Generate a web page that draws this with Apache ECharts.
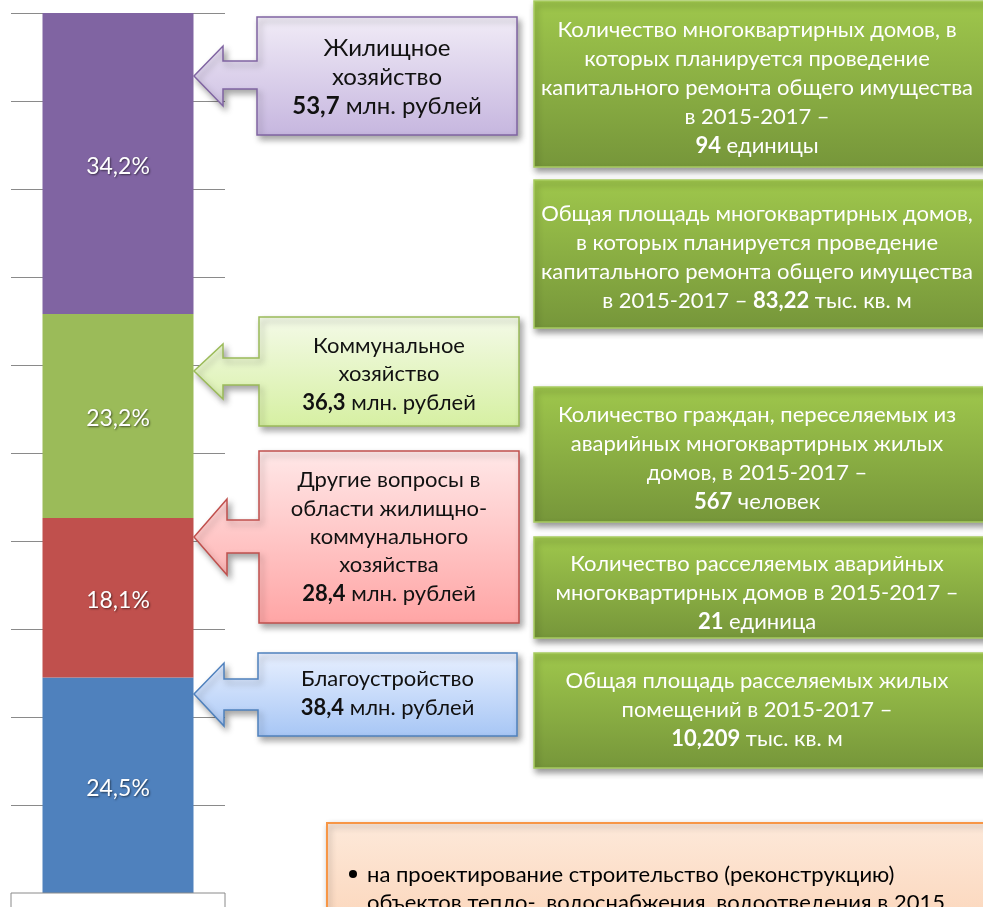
<!DOCTYPE html>
<html><head><meta charset="utf-8">
<script src="https://cdn.jsdelivr.net/npm/echarts@6/dist/echarts.min.js"></script>
<style>html,body{margin:0;padding:0;background:#fff}#c{width:983px;height:907px}</style>
</head><body><div id="c"></div>
<script>
// ---- data ----
const categories = [''];
const seriesNames = ['Благоустройство', 'Другие вопросы в области жилищно-коммунального хозяйства', 'Коммунальное хозяйство', 'Жилищное хозяйство'];
const sharePct = [24.5, 18.1, 23.2, 34.2];
const amountsMln = ['38,4', '28,4', '36,3', '53,7'];
const calloutLines = [
  ['Благоустройство'],
  ['Другие вопросы в', 'области жилищно-', 'коммунального', 'хозяйства'],
  ['Коммунальное', 'хозяйство'],
  ['Жилищное', 'хозяйство']
];
const unitText = ' млн. рублей';
const yTicks = [0, 10, 20, 30, 40, 50, 60, 70, 80, 90, 100];
const infoBoxes = [
  ['Количество многоквартирных домов, в', 'которых планируется проведение', 'капитального ремонта общего имущества', 'в 2015-2017 –', '{b|94} единицы'],
  ['Общая площадь многоквартирных домов,', 'в которых планируется проведение', 'капитального ремонта общего имущества', 'в 2015-2017 – {b|83,22} тыс. кв. м'],
  ['Количество граждан, переселяемых из', 'аварийных многоквартирных жилых', 'домов, в 2015-2017 –', '{b|567} человек'],
  ['Количество расселяемых аварийных', 'многоквартирных домов в 2015-2017 –', '{b|21} единица'],
  ['Общая площадь расселяемых жилых', 'помещений в 2015-2017 –', '{b|10,209} тыс. кв. м']
];
const noteLines = ['на проектирование строительство (реконструкцию)', 'объектов тепло-, водоснабжения, водоотведения в 2015'];
const colors = ['#4f81bd', '#c0504d', '#9bbb59', '#8064a2'];

// ---- decoration layout ----
const FONT = 'Lato, "Open Sans", sans-serif';
const callouts = [
  {L:258,R:517,T:653,B:736,st:679,sb:710,hx:224,ht:663,hb:726,ty:694,cy:693,fs:22,lh:29, c0:'#e8f0ff', c1:'#a7c6f5', stroke:'#4f81bd'},
  {L:259,R:519,T:451,B:623,st:520,sb:553,hx:227,ht:499,hb:575,ty:537,cy:537,fs:22,lh:28.3, c0:'#ffe8e8', c1:'#ffa5a5', stroke:'#c0504d'},
  {L:259,R:519,T:317,B:426,st:358,sb:385,hx:223,ht:344,hb:399,ty:371,cy:374,fs:22,lh:28.5, c0:'#f4fae8', c1:'#d6f0a2', stroke:'#9bbb59'},
  {L:257,R:517,T:17,B:135,st:61,sb:89,hx:223,ht:46,hb:106,ty:76,cy:77,fs:24,lh:29, c0:'#f1ecf7', c1:'#c6b6df', stroke:'#8064a2'}
];
const infoGeom = [
  {T:1,B:167,cy:88}, {T:180,B:328,cy:257}, {T:387,B:522,cy:458}, {T:537,B:638,cy:593}, {T:653,B:768,cy:710}
];

const graphics = [];
// bottom category box
graphics.push({type:'rect', z:5, shape:{x:11, y:893, width:214, height:40}, style:{fill:'#fff', stroke:'#8a8a8a', lineWidth:1}});

callouts.forEach((g, i) => {
  graphics.push({
    type:'polygon', z:50,
    shape:{points:[[g.L,g.T],[g.R,g.T],[g.R,g.B],[g.L,g.B],[g.L,g.sb],[g.hx,g.sb],[g.hx,g.hb],[194,g.ty],[g.hx,g.ht],[g.hx,g.st],[g.L,g.st]]},
    style:{
      fill:{type:'linear',x:0,y:0,x2:0,y2:1,colorStops:[{offset:0,color:g.c0},{offset:1,color:g.c1}]},
      stroke:g.stroke, lineWidth:1.5,
      shadowBlur:6, shadowOffsetX:3, shadowOffsetY:4, shadowColor:'rgba(0,0,0,0.35)'
    }
  });
  const lines = calloutLines[i].concat(['{b|' + amountsMln[i] + '}' + unitText]);
  graphics.push({
    type:'text', z:60,
    style:{
      x:(g.L+g.R)/2, y:g.cy, text:lines.join('\n'),
      font:g.fs + 'px ' + FONT, fill:'#111', align:'center', verticalAlign:'middle',
      lineHeight:g.lh,
      rich:{b:{fontWeight:'bold', fontSize:g.fs, fontFamily:FONT, fill:'#111', lineHeight:g.lh}}
    }
  });
});

infoBoxes.forEach((lines, i) => {
  const g = infoGeom[i];
  graphics.push({
    type:'rect', z:50,
    shape:{x:534, y:g.T, width:470, height:g.B-g.T},
    style:{
      fill:{type:'linear',x:0,y:0,x2:0,y2:1,colorStops:[{offset:0,color:'#9fc74c'},{offset:1,color:'#76963a'}]},
      stroke:'#a8cc60', lineWidth:1.5,
      shadowBlur:6, shadowOffsetX:2, shadowOffsetY:4, shadowColor:'rgba(0,0,0,0.4)'
    }
  });
  graphics.push({
    type:'text', z:60,
    style:{
      x:757, y:g.cy, text:lines.join('\n'),
      font:'22px ' + FONT, fill:'#ffffff', align:'center', verticalAlign:'middle',
      lineHeight:29,
      rich:{b:{fontWeight:'bold', fontSize:22, fontFamily:FONT, fill:'#ffffff', lineHeight:29}}
    }
  });
});

// orange note box
graphics.push({
  type:'rect', z:50,
  shape:{x:327, y:823, width:700, height:120},
  style:{
    fill:{type:'linear',x:0,y:0,x2:0,y2:1,colorStops:[{offset:0,color:'#fde9da'},{offset:1,color:'#fbd3b6'}]},
    stroke:'#f79646', lineWidth:2,
    shadowBlur:6, shadowOffsetX:2, shadowOffsetY:3, shadowColor:'rgba(0,0,0,0.3)'
  }
});
graphics.push({type:'circle', z:60, shape:{cx:353, cy:874, r:4}, style:{fill:'#000'}});
noteLines.forEach((t, i) => {
  graphics.push({type:'text', z:60, style:{x:367, y:875 + i*28, text:t, font:'22px ' + FONT, fill:'#000', align:'left', verticalAlign:'middle'}});
});

const chart = echarts.init(document.getElementById('c'), null, {renderer:'canvas'});
chart.setOption({
  animation:false,
  backgroundColor:'#fff',
  grid:{left:11, right:758, top:13, bottom:14, containLabel:false},
  xAxis:{type:'category', data:categories, axisLine:{show:false}, axisTick:{show:false}, axisLabel:{show:false}},
  yAxis:{type:'value', min:yTicks[0], max:yTicks[yTicks.length-1], interval:yTicks[1]-yTicks[0],
    axisLine:{show:false}, axisTick:{show:false}, axisLabel:{show:false},
    splitLine:{show:true, lineStyle:{color:'#8a8a8a', width:1}}},
  series: seriesNames.map((n, i) => ({
    name:n, type:'bar', stack:'total', barWidth:151,
    data:[sharePct[i]],
    itemStyle:{color:colors[i]},
    label:{show:true, position:'inside', offset:[0,3], fontFamily:FONT, fontSize:23, color:'#fff',
      textShadowColor:'rgba(0,0,0,0.55)', textShadowBlur:2, textShadowOffsetX:1, textShadowOffsetY:1,
      formatter:p => String(p.value).replace('.', ',') + '%'}
  })),
  graphic:graphics
});
</script>
</body></html>
